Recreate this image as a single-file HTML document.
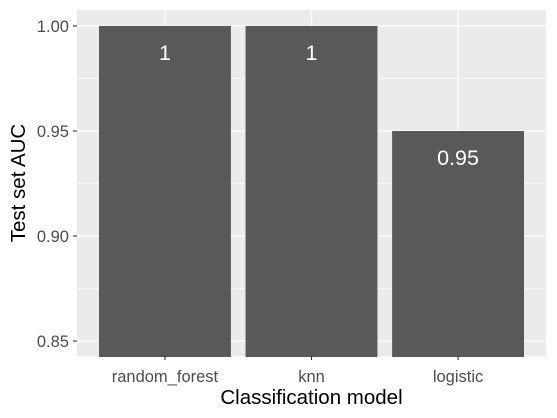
<!DOCTYPE html>
<html><head><meta charset="utf-8"><style>body{margin:0;background:#fff}svg{display:block;font-family:"Liberation Sans",Arial,sans-serif}</style></head>
<body>
<svg id="chart" width="557" height="418" xmlns="http://www.w3.org/2000/svg"></svg>
<script>
const categories = ["random_forest", "knn", "logistic"];
const values = [1, 1, 0.95];
const valueLabels = ["1", "1", "0.95"];
const yTicks = [0.85, 0.90, 0.95, 1.00];
const yTickLabels = ["0.85", "0.90", "0.95", "1.00"];
const yMinor = [0.875, 0.925, 0.975];

const svg = document.getElementById('chart');
const NS = 'http://www.w3.org/2000/svg';
const P = {l:77, r:546, t:10, b:356};
const yMin = 0.8429, yMax = 1.0076;
const y = v => P.b - (v - yMin) / (yMax - yMin) * (P.b - P.t);
const unit = (P.r - P.l) / (categories.length + 0.2);
const x = i => P.l + (0.6 + i) * unit;
function add(tag, attrs, parent) {
  const e = document.createElementNS(NS, tag);
  for (const k in attrs) e.setAttribute(k, attrs[k]);
  (parent || svg).appendChild(e);
  return e;
}
const panel = add('rect', {x:P.l, y:P.t, width:P.r-P.l, height:P.b-P.t, fill:'#ebebeb'});


yMinor.forEach(v => {
  const l = add('line', {x1:P.l, x2:P.r, y1:y(v), y2:y(v), stroke:'#fff', 'stroke-width':0.6});
  
  
});
yTicks.forEach((v, i) => {
  const l = add('line', {x1:P.l, x2:P.r, y1:y(v), y2:y(v), stroke:'#fff', 'stroke-width':1.2});
  
  
  const t = add('line', {x1:P.l-4, x2:P.l, y1:y(v), y2:y(v), stroke:'#333', 'stroke-width':1.1});
  
  
  const tx = add('text', {x:P.l-8, y:y(v)+6, 'text-anchor':'end', 'font-size':16.5, fill:'#4d4d4d'});
  tx.textContent = yTickLabels[i];
  
  
});
categories.forEach((c, i) => {
  const l = add('line', {x1:x(i), x2:x(i), y1:P.t, y2:P.b, stroke:'#fff', 'stroke-width':1.2});
  
  
});
categories.forEach((c, i) => {
  const w = unit * 0.9;
  const b = add('rect', {x:x(i)-w/2, y:y(values[i]), width:w, height:P.b+1-y(values[i]), fill:'#595959'});
  
  
  const vl = add('text', {x:x(i), y:y(values[i])+34, 'text-anchor':'middle', 'font-size':21.5, fill:'#fff'});
  vl.textContent = valueLabels[i];
  
  
  const t = add('line', {x1:x(i), x2:x(i), y1:P.b, y2:P.b+4, stroke:'#333', 'stroke-width':1.1});
  
  
  const tx = add('text', {x:x(i), y:P.b+26, 'text-anchor':'middle', 'font-size':16.5, fill:'#4d4d4d'});
  tx.textContent = c;
  
  
});
const xt = add('text', {x:(P.l+P.r)/2, y:404, 'text-anchor':'middle', 'font-size':20.5, fill:'#000'});
xt.textContent = 'Classification model';


const yt = add('text', {x:0, y:0, 'text-anchor':'middle', 'font-size':20.5, fill:'#000', transform:'translate(25,' + (P.t+P.b)/2 + ') rotate(-90)'});
yt.textContent = 'Test set AUC';


</script>
</body></html>
